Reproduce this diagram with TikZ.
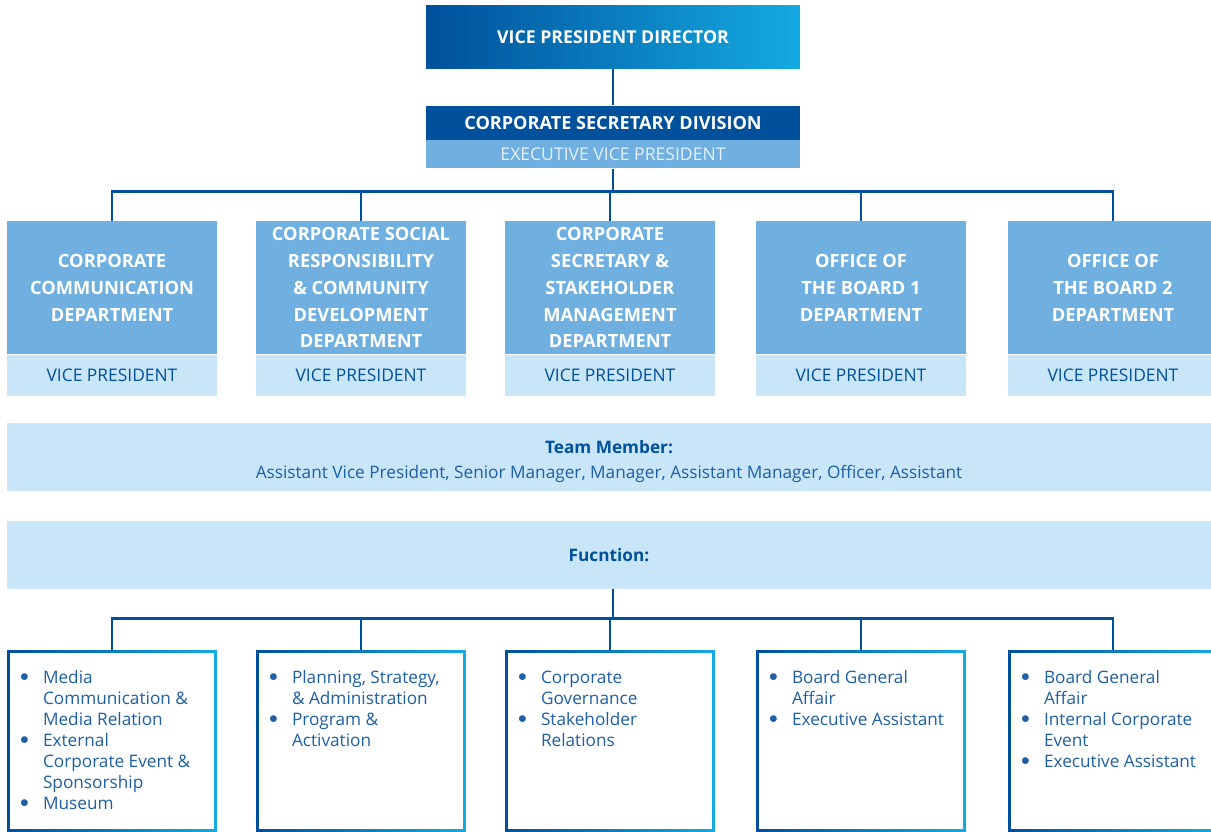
\documentclass[tikz,border=0pt]{standalone}
\usepackage{fontspec}
\setmainfont{Open Sans}
\usepackage{tikz}
\usetikzlibrary{positioning}
\definecolor{vpblue}{RGB}{0,80,155}
\definecolor{skyend}{RGB}{20,170,225}
\definecolor{midblue}{RGB}{111,176,224}
\definecolor{paleblue}{RGB}{200,230,248}
\definecolor{txtblue}{RGB}{30,95,165}
\definecolor{evptext}{RGB}{228,240,251}
\newcommand\fnbul{\raisebox{0.12em}{$\bullet$}}
\newcommand\fnlist[1]{%
  \parbox[c][3.64cm][t]{4.2cm}{\vspace*{0.38cm}\hspace*{0.26cm}%
  \begin{tabular}[t]{@{}p{0.46cm}@{}l@{}}#1\end{tabular}}}
\tikzset{
  topbox/.style={
    rectangle, left color=vpblue, right color=skyend,
    minimum width=7.48cm, minimum height=1.28cm, inner sep=0pt,
    text=white, font=\fontsize{10.1}{12}\selectfont\bfseries
  },
  divbox/.style={
    rectangle, fill=vpblue, minimum width=7.48cm, minimum height=0.68cm,
    inner sep=0pt, text=white, font=\fontsize{10.3}{12}\selectfont\bfseries
  },
  evpbox/.style={
    rectangle, fill=midblue, minimum width=7.48cm, minimum height=0.56cm,
    inner sep=0pt, text=evptext, font=\fontsize{10}{12}\selectfont
  },
  deptbox/.style={
    rectangle, fill=midblue, minimum width=4.2cm, minimum height=2.66cm,
    inner sep=0pt, align=center, text=white,
    font=\fontsize{10.4}{15.3}\selectfont\bfseries
  },
  vpbox/.style={
    rectangle, fill=paleblue, minimum width=4.2cm, minimum height=0.82cm,
    inner sep=0pt, text=vpblue, font=\fontsize{9.9}{12}\selectfont
  },
  bandbox/.style={
    rectangle, fill=paleblue, minimum width=24.08cm, minimum height=1.36cm,
    inner sep=0pt, align=center, text=txtblue,
    font=\fontsize{9.8}{14.2}\selectfont
  },
  fnbox/.style={
    rectangle, minimum width=4.2cm, minimum height=3.64cm, inner sep=0pt,
    text=txtblue, font=\fontsize{9.8}{11.9}\selectfont,
    path picture={
      \shade[left color=vpblue, right color=skyend]
        (path picture bounding box.south west) rectangle
        (path picture bounding box.north east);
      \fill[white]
        ([shift={(0.06cm,0.06cm)}]path picture bounding box.south west) rectangle
        ([shift={(-0.06cm,-0.06cm)}]path picture bounding box.north east);
    }
  },
  link/.style={draw=vpblue, line width=1.6pt},
}
\begin{document}
\begin{tikzpicture}[x=0.02cm, y=-0.02cm]
\useasboundingbox (0,0) rectangle (1211,832);

%% ── Top: director and division ──
\node[topbox] (vpd) at (613,37) {VICE PRESIDENT DIRECTOR};
\node[divbox, below=0.72cm of vpd] (csd) {CORPORATE SECRETARY DIVISION};
\node[evpbox, below=0pt of csd] (evp) {EXECUTIVE VICE PRESIDENT};

%% ── Departments ──
\node[deptbox] (dept1) at (112,287.5)
  {CORPORATE\\COMMUNICATION\\DEPARTMENT};
\node[deptbox] (dept2) at (361,287.5)
  {CORPORATE SOCIAL\\RESPONSIBILITY\\\& COMMUNITY\\DEVELOPMENT\\DEPARTMENT};
\node[deptbox] (dept3) at (610,287.5)
  {CORPORATE\\SECRETARY \&\\STAKEHOLDER\\MANAGEMENT\\DEPARTMENT};
\node[deptbox] (dept4) at (861,287.5)
  {OFFICE OF\\THE BOARD 1\\DEPARTMENT};
\node[deptbox] (dept5) at (1113,287.5)
  {OFFICE OF\\THE BOARD 2\\DEPARTMENT};

\foreach \i in {1,...,5}
  \node[vpbox, below=0pt of dept\i] (vp\i) {VICE PRESIDENT};

%% ── Team member and function bands ──
\node[bandbox] (team) at (609,457)
  {\rule{0pt}{12.5pt}{\color{vpblue}\bfseries Team Member:}\\
   Assistant Vice President, Senior Manager, Manager, Assistant Manager, Officer, Assistant};
\node[bandbox] (func) at (609,555) {{\color{vpblue}\bfseries Fucntion:}};

%% ── Function boxes ──
\node[fnbox] (fn1) at (112,741) {\fnlist{%
  \fnbul & Media\\ & Communication \&\\ & Media Relation\\
  \fnbul & External\\ & Corporate Event \&\\ & Sponsorship\\
  \fnbul & Museum}};
\node[fnbox] (fn2) at (361,741) {\fnlist{%
  \fnbul & Planning, Strategy,\\ & \& Administration\\
  \fnbul & Program \&\\ & Activation}};
\node[fnbox] (fn3) at (610,741) {\fnlist{%
  \fnbul & Corporate\\ & Governance\\
  \fnbul & Stakeholder\\ & Relations}};
\node[fnbox] (fn4) at (861,741) {\fnlist{%
  \fnbul & Board General\\ & Affair\\
  \fnbul & Executive Assistant}};
\node[fnbox] (fn5) at (1113,741) {\fnlist{%
  \fnbul & Board General\\ & Affair\\
  \fnbul & Internal Corporate\\ & Event\\
  \fnbul & Executive Assistant}};

%% ── Connectors ──
\draw[link] (vpd) -- (csd);
\draw[link] (evp.south) -- ++(0,-0.46cm) coordinate (bus);
\foreach \i in {1,...,5}
  \draw[link] (bus) -| (dept\i.north);
\draw[link] (vpd |- func.south) -- ++(0,-0.58cm) coordinate (fbus);
\foreach \i in {1,...,5}
  \draw[link] (fbus) -| (fn\i.north);

\end{tikzpicture}
\end{document}
